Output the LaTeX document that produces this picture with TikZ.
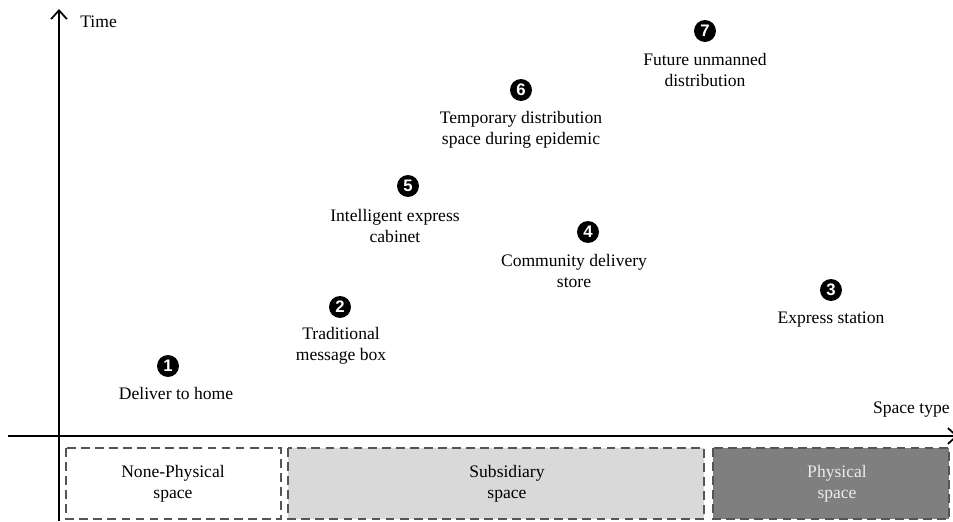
\documentclass[tikz,border=0pt]{standalone}
\usepackage{fontspec}
\setmainfont{Liberation Serif}
\newfontfamily\numfont{Liberation Sans}
\usetikzlibrary{arrows.meta}
\definecolor{subgray}{HTML}{D9D9D9}
\definecolor{physgray}{HTML}{7F7F7F}
\definecolor{edgegray}{HTML}{555555}
\begin{document}
\begin{tikzpicture}[x=0.02cm, y=-0.02cm, >={Straight Barb[length=5pt, width=9pt]},
    stepno/.style={circle, fill=black, text=white, inner sep=0pt, minimum size=12.5pt,
      font=\numfont\bfseries\fontsize{9.5}{9.5}\selectfont},
    steptext/.style={align=center, inner sep=0pt, font=\fontsize{10}{12}\selectfont},
    spacebox/.style={draw=edgegray, line width=0.8pt, dash pattern=on 5pt off 3pt}]
    \useasboundingbox (0,0) rectangle (953,521);

    % Axes
    \draw[line width=1pt, ->] (59,521) -- (59,9);
    \draw[line width=1pt, ->] (8,436) -- (958,436);
    \node[steptext, anchor=west] (time) at (80,22) {Time};
    \node[steptext, anchor=east] (stype) at (950,410) {Space type};

    % Space categories below the axis
    \draw[spacebox, fill=white] (66,448) rectangle (281,519);
    \node[steptext] (nonphys) at (173,484) {None-Physical\\space};
    \draw[spacebox, fill=subgray] (288,448) rectangle (704,519);
    \node[steptext] (subsid) at (507,484) {Subsidiary\\space};
    \draw[spacebox, fill=physgray] (713,448) rectangle (949,519);
    \node[steptext, text=black!8] (phys) at (837,484) {Physical\\space};

    % Delivery forms, numbered in order
    \node[stepno] (n1) at (168,366) {1};
    \node[steptext] (t1) at (176,393) {Deliver to home};

    \node[stepno] (n2) at (340,307) {2};
    \node[steptext] (t2) at (341,346) {Traditional\\message box};

    \node[stepno] (n3) at (831,290) {3};
    \node[steptext] (t3) at (831,320) {Express station};

    \node[stepno] (n4) at (588,232) {4};
    \node[steptext] (t4) at (574,271) {Community delivery\\store};

    \node[stepno] (n5) at (408,186) {5};
    \node[steptext] (t5) at (395,226) {Intelligent express\\cabinet};

    \node[stepno] (n6) at (521,90) {6};
    \node[steptext] (t6) at (521,130) {Temporary distribution\\space during epidemic};

    \node[stepno] (n7) at (705,31) {7};
    \node[steptext] (t7) at (705,70) {Future unmanned\\distribution};
\end{tikzpicture}
\end{document}
